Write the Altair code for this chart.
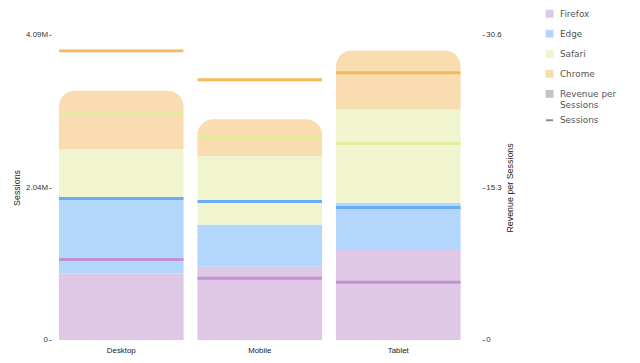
import altair as alt
import pandas as pd

devices = ["Desktop", "Mobile", "Tablet"]
browsers = ["Firefox", "Edge", "Safari", "Chrome"]

# Sessions (millions) per device, bottom to top of the stack
sessions_firefox = [0.893, 0.981, 1.206]
sessions_edge = [1.022, 0.569, 0.635]
sessions_safari = [0.645, 0.917, 1.248]
sessions_chrome = [0.780, 0.493, 0.793]

# Revenue per session per device
rps_firefox = [8.07, 6.2, 5.8]
rps_edge = [14.2, 13.9, 13.3]
rps_safari = [22.8, 20.3, 19.7]
rps_chrome = [29.0, 26.1, 26.8]

legend_items = browsers + ["Revenue per Sessions"]
line_legend_items = ["Sessions"]
bar_colors = ["#dec8e5", "#b3d7fc", "#f0f5cf", "#f9ddb0", "#c4c4c4"]
line_colors = ["#c193d0", "#68acf6", "#e2ee9c", "#f6b957"]
legend_line_color = "#8a8a8a"

left_ticks = [0, 2045000, 4090000]
left_labels = ["0", "2.04M", "4.09M"]
right_ticks = [0, 15.3, 30.6]
right_labels = ["0", "15.3", "30.6"]

sessions = [sessions_firefox, sessions_edge, sessions_safari, sessions_chrome]
rps = [rps_firefox, rps_edge, rps_safari, rps_chrome]

rows = []
for bi, b in enumerate(browsers):
    for di, d in enumerate(devices):
        rows.append({
            "device": d,
            "browser": b,
            "order": bi,
            "sessions": sessions[bi][di] * 1e6,
            "rps": rps[bi][di],
            "line_color": line_colors[bi],
        })
df = pd.DataFrame(rows)
line_legend_df = pd.DataFrame({"kind": line_legend_items, "device": devices[0], "rps": 0})

left_expr = " : ".join(
    f"datum.value == {v} ? '{l}'" for v, l in zip(left_ticks, left_labels)
) + " : ''"
right_expr = " : ".join(
    f"abs(datum.value - {v}) < 0.01 ? '{l}'" for v, l in zip(right_ticks, right_labels)
) + " : ''"

x_enc = alt.X(
    "device:N",
    sort=devices,
    title=None,
    scale=alt.Scale(paddingInner=0.1, paddingOuter=0.054),
    axis=alt.Axis(labelAngle=0, ticks=False, domain=False, labelFont="Liberation Sans",
                  labelFontSize=8, labelColor="#222", labelPadding=7),
)

legend_common = dict(
    title=None,
    orient="none",
    legendX=500,
    padding=0,
    symbolOpacity=1,
    labelFont="DejaVu Sans",
    labelFontSize=9,
    labelColor="#555",
    labelOffset=6,
)

color_legend = alt.Legend(
    legendY=-26,
    symbolType="square",
    symbolSize=64,
    symbolStrokeWidth=0,
    rowPadding=10.3,
    labelExpr="datum.label == 'Revenue per Sessions' ? ['Revenue per', 'Sessions'] : datum.label",
    **legend_common,
)

line_legend = alt.Legend(
    legendY=82,
    symbolType="stroke",
    symbolSize=49,
    symbolStrokeWidth=2,
    symbolStrokeColor=legend_line_color,
    **legend_common,
)

color_scale = alt.Scale(domain=legend_items, range=bar_colors)

y_left = alt.Y(
    "s0:Q",
    title="Sessions",
    scale=alt.Scale(domain=[0, 4090000], nice=False),
    axis=alt.Axis(values=left_ticks, labelExpr=left_expr, grid=False, domain=False,
                  tickSize=3, tickColor="#888", labelPadding=1,
                  labelFont="Liberation Sans", labelFontSize=8, labelColor="#333",
                  titleFont="Liberation Sans", titleFontSize=9, titleFontWeight="normal",
                  titleColor="#222", titlePadding=4),
)

y_right = alt.Y(
    "rps:Q",
    title="Revenue per Sessions",
    scale=alt.Scale(domain=[0, 30.6], nice=False),
    axis=alt.Axis(orient="right", offset=14, values=right_ticks, labelExpr=right_expr,
                  grid=False, domain=False, tickSize=3, tickColor="#888", labelPadding=1,
                  labelFont="Liberation Sans", labelFontSize=8, labelColor="#333",
                  titleFont="Liberation Sans", titleFontSize=9, titleFontWeight="normal",
                  titleColor="#222", titlePadding=4, titleAngle=270, titleBaseline="top"),
)

base = alt.Chart(df).transform_stack(
    stack="sessions", as_=["s0", "s1"], groupby=["device"],
    sort=[alt.SortField("order", order="ascending")],
)

bars_rest = base.transform_filter("datum.browser != 'Chrome'").mark_bar(opacity=1).encode(
    x=x_enc, y=y_left, y2="s1:Q",
    color=alt.Color("browser:N", scale=color_scale, legend=color_legend),
)
bars_top = base.transform_filter("datum.browser == 'Chrome'").mark_bar(
    opacity=1, cornerRadiusTopLeft=16, cornerRadiusTopRight=16
).encode(
    x=x_enc, y=y_left, y2="s1:Q",
    color=alt.Color("browser:N", scale=color_scale, legend=None),
)

ticks = alt.Chart(df).mark_tick(thickness=3, size=126, opacity=1).encode(
    x=x_enc,
    y=y_right,
    color=alt.Color("line_color:N", scale=None),
)

line_key = alt.Chart(line_legend_df).mark_rule(color=legend_line_color, opacity=0).encode(
    x=x_enc,
    y=y_right,
    strokeDash=alt.StrokeDash(
        "kind:N", scale=alt.Scale(domain=line_legend_items, range=[[1, 0]]), legend=line_legend
    ),
)

chart = alt.layer(
    alt.layer(bars_rest, bars_top), alt.layer(ticks, line_key)
).resolve_scale(
    y="independent", color="independent"
).properties(
    width=422,
    height=309,
    autosize=alt.AutoSizeParams(type="none"),
    padding={"left": 44, "top": 25, "right": 166, "bottom": 20},
    background="white",
).configure_view(stroke=None)

chart.save("out.html", embed_options={"renderer": "svg", "actions": False})
